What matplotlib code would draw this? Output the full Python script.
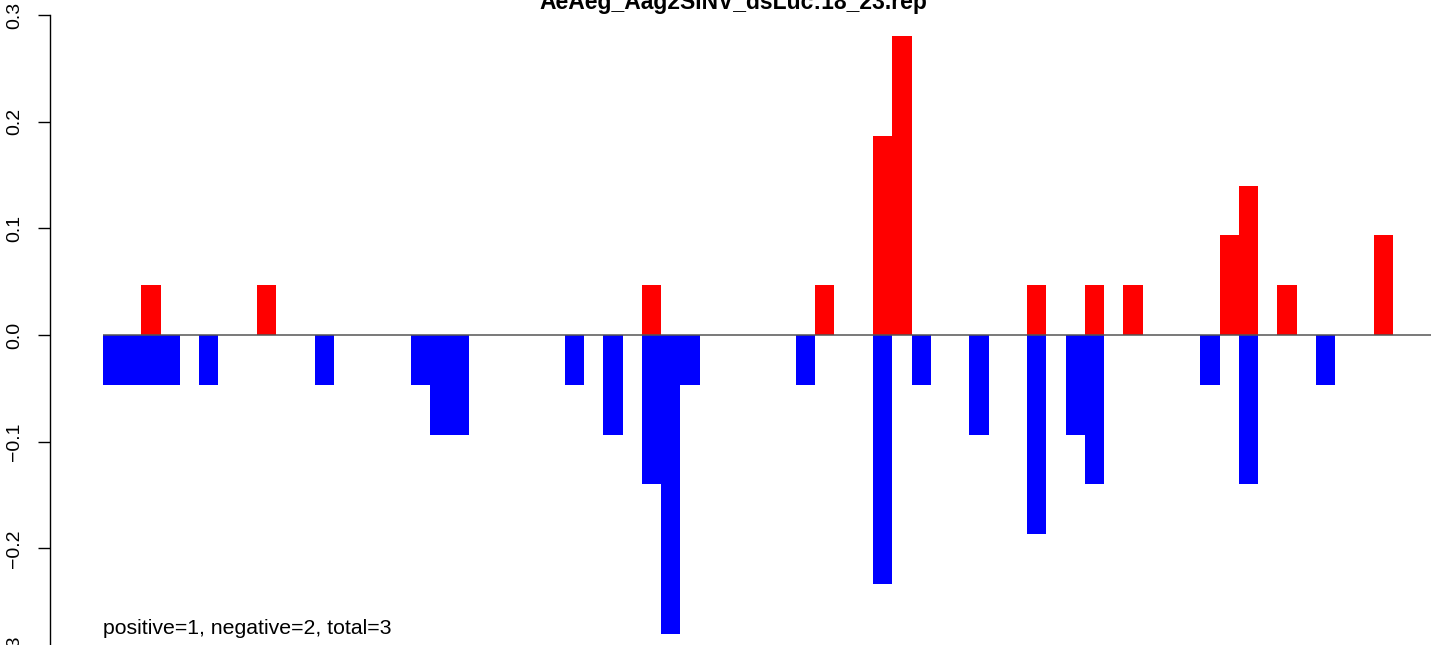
import matplotlib
matplotlib.use("Agg")
import matplotlib.pyplot as plt

plt.rcParams['font.family'] = ['Liberation Sans', 'DejaVu Sans']

title = "AeAeg_Aag2SINV_dsLuc:18_23.rep"
note = "positive=1, negative=2, total=3"

# bar positions (index along the reference) and heights
pos_idx = [2, 8, 28, 37, 40, 41, 48, 51, 53, 58, 59, 61, 66]
pos_val = [0.0467, 0.0467, 0.0467, 0.0467, 0.1867, 0.28, 0.0467, 0.0467,
           0.0467, 0.0933, 0.14, 0.0467, 0.0933]

neg_idx = [0, 1, 2, 3, 5, 11, 16, 17, 18, 24, 26, 28, 29, 30, 36, 40, 42,
           45, 48, 50, 51, 57, 59, 63]
neg_val = [-0.0467, -0.0467, -0.0467, -0.0467, -0.0467, -0.0467, -0.0467,
           -0.0933, -0.0933, -0.0467, -0.0933, -0.14, -0.28, -0.0467, -0.0467,
           -0.2333, -0.0467, -0.0933, -0.1867, -0.0933, -0.14, -0.0467, -0.14,
           -0.0467]
n_pos = 69

yticks = [-0.3, -0.2, -0.1, 0.0, 0.1, 0.2, 0.3]
ytick_labels = ["\u22120.3", "\u22120.2", "\u22120.1", "0.0", "0.1", "0.2", "0.3"]

W, H = 1444, 645
fig = plt.figure(figsize=(W / 100, H / 100), dpi=100)
# axes runs a little past the bottom edge, as in the cropped reference
ax = fig.add_axes([50 / W, (H - 655) / H, (W - 50) / W, 640 / H])
ax.set_xlim(-2.75, 69.66)
ax.set_ylim(-0.3, 0.3)

ax.bar(neg_idx, neg_val, width=1, align='edge', color='#0000ff', linewidth=0)
ax.bar(pos_idx, pos_val, width=1, align='edge', color='#ff0000', linewidth=0)
ax.hlines(0, 0, n_pos, color='#555555', linewidth=1.1)

ax.text(0, -0.2755, note, ha='left', va='center', fontsize=15.3)

for s in ['top', 'right', 'bottom']:
    ax.spines[s].set_visible(False)
ax.spines['left'].set_bounds(-0.3, 0.3)
ax.spines['left'].set_linewidth(1.0)
ax.set_xticks([])
ax.set_yticks(yticks)
ax.set_yticklabels(ytick_labels, rotation=90, va='center', fontsize=14)
ax.tick_params(axis='y', length=8.6, width=1.0, pad=11)

fig.text(733 / W, 1 - 3 / H, title, ha='center', va='center',
         fontsize=16.5, fontweight='bold')

fig.savefig("out.png", dpi=100)
